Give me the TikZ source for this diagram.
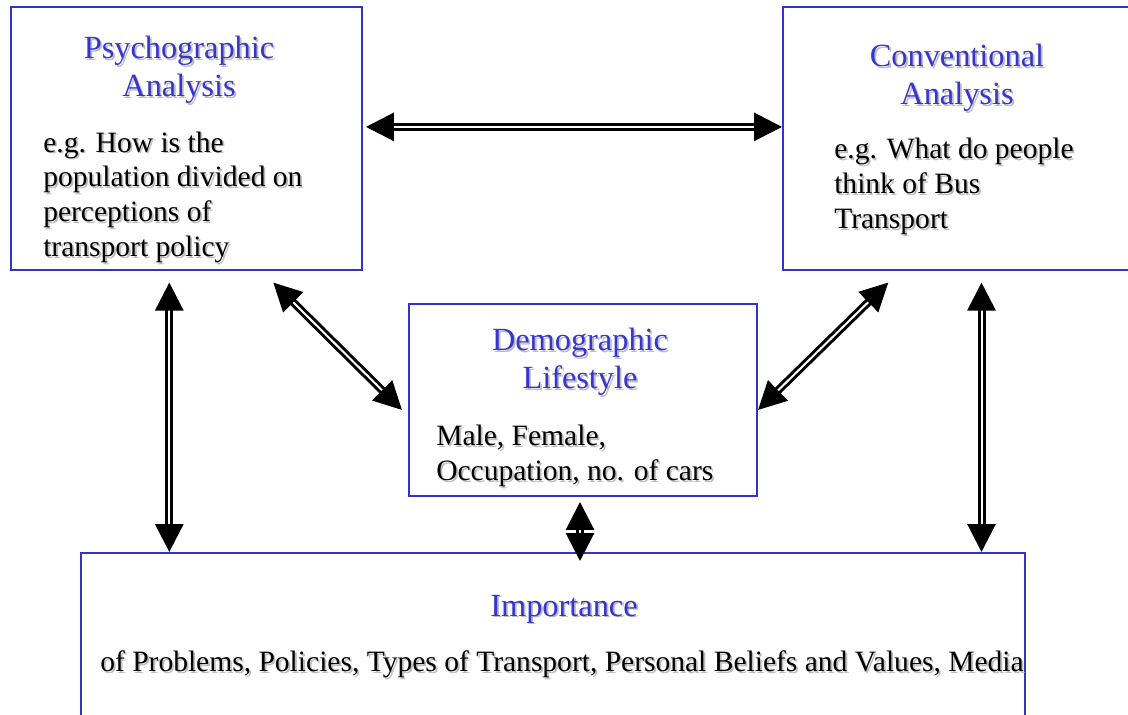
\documentclass[tikz,border=0pt]{standalone}
\usepackage{fontspec}
\setmainfont{Liberation Serif}
\usepackage{xcolor}
\usepackage{tikz}
\usetikzlibrary{calc,positioning,arrows.meta}
\definecolor{framecol}{HTML}{3333CC}
\definecolor{headblue}{HTML}{3636CC}
\definecolor{shadecol}{HTML}{BDBDBD}
\newcommand{\shadowed}[1]{\leavevmode\rlap{\kern1.3pt\raisebox{-1.3pt}{\textcolor{shadecol}{#1}}}#1}

\begin{document}
\begin{tikzpicture}[x=1cm, y=1cm,
      blockbox/.style={draw=framecol, line width=1.4pt, inner sep=0pt},
      headtxt/.style={font=\fontsize{23}{27}\selectfont, color=headblue,
                      align=center, inner sep=0pt},
      bodytxt/.style={font=\fontsize{21}{24.7}\selectfont, align=left,
                      inner sep=0pt},
      dblarr/.style={{Triangle[length=0.7cm,width=0.7cm]}-{Triangle[length=0.7cm,width=0.7cm]},
                     double, double distance=0.05cm, line width=0.075cm}]

    \useasboundingbox (0,0) rectangle (28.2,17.875);

    \node[blockbox, minimum width=8.775cm, minimum height=6.575cm] (psy) at (4.6625,14.4125) {};
    \node[blockbox, minimum width=8.925cm, minimum height=6.575cm] (con) at (24.0375,14.4125) {};
    \node[blockbox, minimum width=8.7cm, minimum height=4.8cm] (dem) at (14.575,7.875) {};
    \node[blockbox, minimum width=23.6cm, minimum height=5.675cm] (imp) at (13.825,1.2125) {};

    \node[headtxt] (psyhead) at (4.475,16.1) {\shadowed{Psychographic}\\\shadowed{Analysis}};
    \node[bodytxt, anchor=west] (psybody) at (1.075,12.925)
      {\shadowed{e.g. How is the}\\\shadowed{population divided on}\\
       \shadowed{perceptions of}\\\shadowed{transport policy}};

    \node[headtxt] (conhead) at (23.925,15.9) {\shadowed{Conventional}\\\shadowed{Analysis}};
    \node[bodytxt, anchor=west] (conbody) at (20.85,13.19)
      {\shadowed{e.g. What do people}\\\shadowed{think of Bus}\\\shadowed{Transport}};

    \node[headtxt] (demhead) at (14.5,8.8) {\shadowed{Demographic}\\\shadowed{Lifestyle}};
    \node[bodytxt, anchor=west] (dembody) at (10.9,6.45)
      {\shadowed{Male, Female,}\\\shadowed{Occupation, no. of cars}};

    \node[headtxt] (imphead) at (14.1,2.63) {\shadowed{Importance}};
    \node[bodytxt] (impbody) at (14.05,1.25)
      {\shadowed{of Problems, Policies, Types of Transport, Personal Beliefs and Values, Media}};

    \coordinate (psyfoot) at ([xshift=-0.43cm, yshift=-0.29cm]psy.south);
    \coordinate (confoot) at ([xshift=0.5cm, yshift=-0.29cm]con.south);
    \coordinate (demfoot) at ([xshift=-0.075cm, yshift=-0.125cm]dem.south);

    \draw[dblarr] ([xshift=0.075cm, yshift=0.29cm]psy.east) -- ([yshift=0.29cm]con.west);
    \draw[dblarr] (psyfoot) -- (psyfoot |- imp.north);
    \draw[dblarr] ([xshift=2.17cm, yshift=-0.29cm]psy.south) -- ([xshift=-0.15cm, yshift=-0.25cm]dem.west);
    \draw[dblarr] ([xshift=-1.83cm, yshift=-0.29cm]con.south) -- ([yshift=-0.25cm]dem.east);
    \draw[dblarr] (confoot) -- (confoot |- imp.north);
    \draw[dblarr] (demfoot) -- ($(demfoot |- imp.north)+(0,-0.225)$);
  \end{tikzpicture}
\end{document}
